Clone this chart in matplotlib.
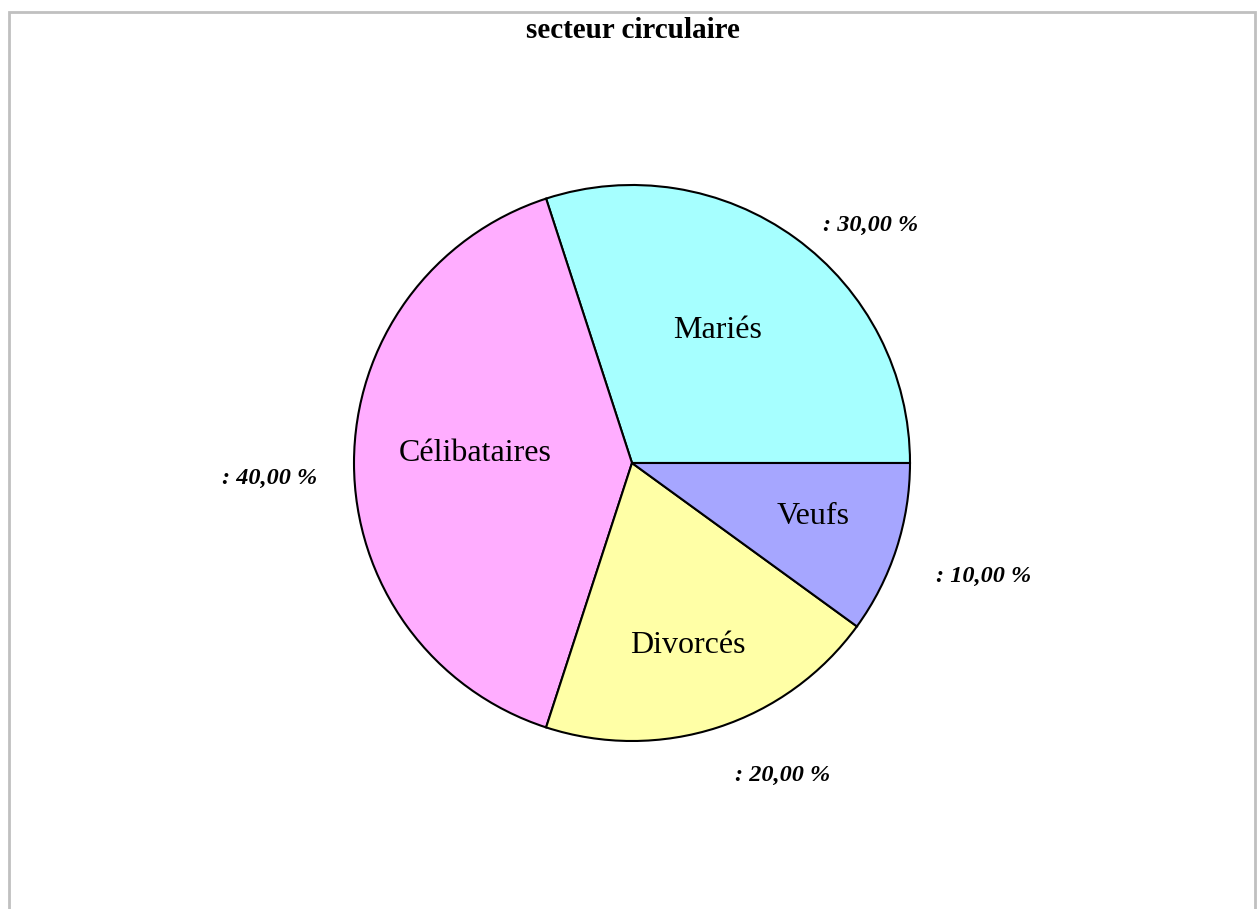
import numpy as np
import matplotlib.pyplot as plt
from matplotlib.patches import Rectangle

labels = ['Mariés', 'Célibataires', 'Divorcés', 'Veufs']
values = [30, 40, 20, 10]
colors = ['#a6ffff', '#ffadff', '#ffffa6', '#a6a6ff']
pct_text = [': 30,00 %', ': 40,00 %', ': 20,00 %', ': 10,00 %']

W, H = 1257, 909
fig = plt.figure(figsize=(W / 100, H / 100), dpi=100)
ax = fig.add_axes([0, 0, 1, 1])

cx, cy, r = 632, H - 463, 278
wedges, texts = ax.pie(values, labels=labels, colors=colors, startangle=0,
                       counterclock=True, center=(cx, cy), radius=r,
                       labeldistance=0.62,
                       wedgeprops=dict(edgecolor='black', linewidth=1.5),
                       textprops=dict(family='Liberation Serif', fontsize=23))

# nudge the slice names a little
nudges = [(-16, -7), (16, 10), (3, -19), (17, 0)]
for t, (dx, dy) in zip(texts, nudges):
    x, y = t.get_position()
    t.set_position((x + dx, y + dy))
    t.set_horizontalalignment('center')
    t.set_verticalalignment('center')

# pie() resets the limits, so set them afterwards
ax.set_xlim(0, W)
ax.set_ylim(0, H)
ax.set_aspect('equal')
ax.axis('off')

# outer frame of the chart area
ax.add_patch(Rectangle((9, -20), W - 11, H - 12 + 20, fill=False,
                       edgecolor='#c0c0c0', linewidth=2))

# percentage labels outside the slices
offsets = [(75, 13), (-84, -15), (65, -48), (87, -28)]
for w, txt, off in zip(wedges, pct_text, offsets):
    mid = np.deg2rad((w.theta1 + w.theta2) / 2)
    ex, ey = cx + r * np.cos(mid), cy + r * np.sin(mid)
    ax.annotate(txt, xy=(ex, ey), xytext=off, textcoords='offset pixels',
                ha='center', va='center', family='Liberation Serif',
                fontsize=17.5, fontweight='bold', fontstyle='italic')

ax.text(W / 2 + 4, H - 31, 'secteur circulaire', ha='center', va='center',
        family='Liberation Serif', fontsize=21, fontweight='bold')

fig.savefig('out.png', dpi=100)
